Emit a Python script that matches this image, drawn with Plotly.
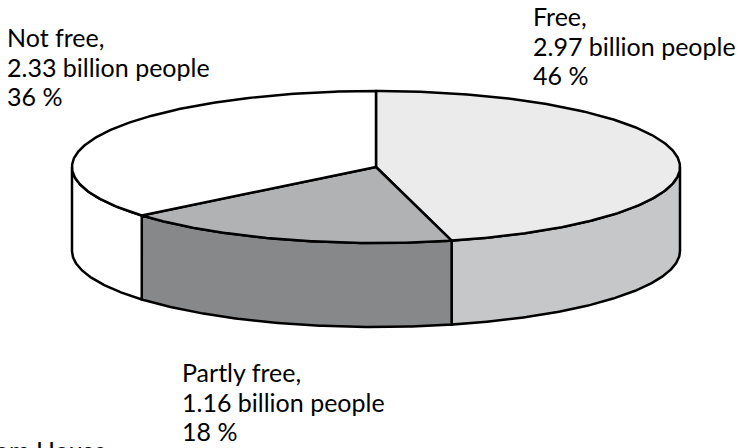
import numpy as np
import plotly.graph_objects as go

# ---- data ----
categories = ["Free", "Partly free", "Not free"]
people_billion = [2.97, 1.16, 2.33]
percent = [46, 18, 36]
top_colors = ["#ebebeb", "#b1b2b4", "#ffffff"]
side_colors = ["#c6c7c8", "#87888a", "#ffffff"]
source_text = "Source: Freedom House"

# ---- geometry (pixel space) ----
W, H = 740, 448
cx, cy = 376, 167
a, b = 304, 76
depth = 84
FONT = "Lato"
FS = 25

def pt(theta_deg, dy=0.0):
    t = np.radians(theta_deg)
    return cx + a * np.cos(t), cy - b * np.sin(t) + dy

total = sum(percent)
starts, ends = [], []
ang = 90.0
for p in percent:
    starts.append(ang)
    ang -= 360.0 * p / total
    ends.append(ang)

fig = go.Figure()

# side faces (front half only: theta in [-180, 0])
for i in range(len(categories)):
    lo = max(ends[i], -180.0)
    hi = min(starts[i], 0.0)
    if hi <= lo:
        continue
    th = np.linspace(lo, hi, 120)
    xs_top, ys_top = pt(th)
    xs_bot, ys_bot = pt(th[::-1], depth)
    xs = np.concatenate([xs_top, xs_bot, xs_top[:1]])
    ys = np.concatenate([ys_top, ys_bot, ys_top[:1]])
    fig.add_trace(go.Scatter(x=xs, y=ys, mode="lines", fill="toself",
                             fillcolor=side_colors[i],
                             line=dict(color="black", width=2.5),
                             hoverinfo="skip", showlegend=False))

# top faces
for i in range(len(categories)):
    th = np.linspace(starts[i], ends[i], 200)
    xa, ya = pt(th)
    xs = np.concatenate([[cx], xa, [cx]])
    ys = np.concatenate([[cy], ya, [cy]])
    fig.add_trace(go.Scatter(x=xs, y=ys, mode="lines", fill="toself",
                             fillcolor=top_colors[i],
                             line=dict(color="black", width=2.5),
                             hoverinfo="skip", showlegend=False))

def py(ypix):
    return 1 - ypix / H

# labels: left x and first-line baseline
label_pos = {"Free": (532, 25), "Partly free": (181, 381), "Not free": (6, 46)}
LINE = 29.5
for i, c in enumerate(categories):
    x, base = label_pos[c]
    lines = [f"{c},", f"{people_billion[i]:.2f} billion people", f"{percent[i]} %"]
    for k, t in enumerate(lines):
        fig.add_annotation(x=x / W, y=py(base + k * LINE - 9), xref="paper", yref="paper",
                           text=t, showarrow=False, xanchor="left", yanchor="middle",
                           font=dict(family=FONT, size=FS, color="black"), borderpad=0)

fig.add_annotation(x=108 / W, y=py(459 - 9), xref="paper", yref="paper", text=source_text,
                   showarrow=False, xanchor="right", yanchor="middle",
                   font=dict(family=FONT, size=FS, color="black"), borderpad=0)

fig.update_xaxes(range=[0, W], visible=False, fixedrange=True)
fig.update_yaxes(range=[H, 0], visible=False, fixedrange=True)
fig.update_layout(width=W, height=H, margin=dict(l=0, r=0, t=0, b=0),
                  paper_bgcolor="white", plot_bgcolor="white")

fig.write_html("out.html", config={"displayModeBar": False},
               post_script="document.body.style.margin='0';document.body.style.overflow='hidden';")
